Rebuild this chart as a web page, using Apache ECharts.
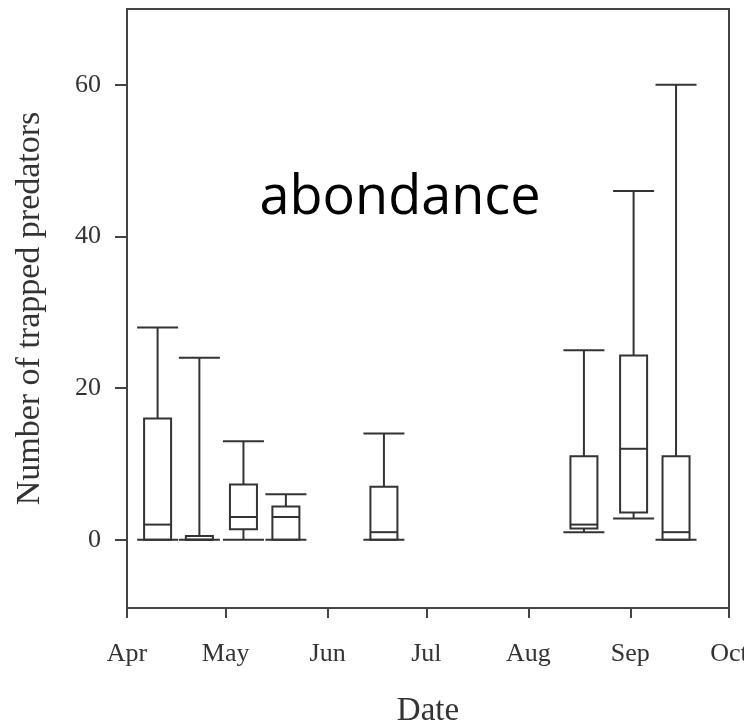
<!DOCTYPE html>
<html>
<head>
<meta charset="utf-8">
<script src="https://cdn.jsdelivr.net/npm/echarts@6/dist/echarts.min.js"></script>
<style>
html,body{margin:0;padding:0;background:#fff;}
#chart{width:744px;height:724px;}
</style>
</head>
<body>
<div id="chart"></div>
<script>
// Month labels and their offsets (days since 1 April)
const monthLabels = ['Apr', 'May', 'Jun', 'Jul', 'Aug', 'Sep', 'Oct'];
const monthStartDays = [0, 30, 61, 91, 122, 153, 183];
// Sampling dates (days since 1 April)
const sampleDays = [9.3, 22, 35.4, 48.3, 78.1, 138.9, 154, 166.9];
// Box plot statistics per sampling date
const whiskerLow = [0, 0, 0, 0, 0, 1, 2.8, 0];
const quartile1 = [0, 0, 1.4, 0, 0, 1.5, 3.6, 0];
const medians = [2, 0, 3, 3, 1, 2, 12, 1];
const quartile3 = [16, 0.5, 7.3, 4.4, 7, 11, 24.3, 11];
const whiskerHigh = [28, 24, 13, 6, 14, 25, 46, 60];
const yTicks = [0, 20, 40, 60];

const boxData = sampleDays.map((d, i) => [d, whiskerLow[i], quartile1[i], medians[i], quartile3[i], whiskerHigh[i]]);

const chart = echarts.init(document.getElementById('chart'));
const ink = '#333';
const serif = 'Liberation Serif';

function renderBox(params, api) {
  const x = api.value(0);
  const pLo = api.coord([x, api.value(1)]);
  const pQ1 = api.coord([x, api.value(2)]);
  const pMed = api.coord([x, api.value(3)]);
  const pQ3 = api.coord([x, api.value(4)]);
  const pHi = api.coord([x, api.value(5)]);
  const cx = pMed[0];
  const bh = 13.5, ch = 20.5;
  const st = { stroke: ink, lineWidth: 2, fill: null };
  return {
    type: 'group',
    children: [
      { type: 'line', shape: { x1: cx, y1: pQ3[1], x2: cx, y2: pHi[1] }, style: st },
      { type: 'line', shape: { x1: cx, y1: pLo[1], x2: cx, y2: pQ1[1] }, style: st },
      { type: 'line', shape: { x1: cx - ch, y1: pHi[1], x2: cx + ch, y2: pHi[1] }, style: st },
      { type: 'line', shape: { x1: cx - ch, y1: pLo[1], x2: cx + ch, y2: pLo[1] }, style: st },
      { type: 'rect', shape: { x: cx - bh, y: pQ3[1], width: 2 * bh, height: pQ1[1] - pQ3[1] }, style: { stroke: ink, lineWidth: 2, fill: 'rgba(0,0,0,0)' } },
      { type: 'line', shape: { x1: cx - bh, y1: pMed[1], x2: cx + bh, y2: pMed[1] }, style: st }
    ]
  };
}

chart.setOption({
  backgroundColor: '#fff',
  animation: false,
  grid: {
    left: 127, right: 15, top: 9, bottom: 116,
    outerBoundsMode: 'none',
    containLabel: false,
    show: true, borderColor: '#444', borderWidth: 2, backgroundColor: 'transparent'
  },
  xAxis: {
    type: 'value',
    min: 0, max: 183,
    name: 'Date',
    nameLocation: 'middle',
    nameGap: 87,
    nameTextStyle: { fontFamily: serif, fontSize: 33, color: ink },
    axisLine: { show: true, onZero: false, lineStyle: { color: '#444', width: 2 } },
    axisTick: { show: true, length: 10, inside: false, customValues: monthStartDays, lineStyle: { color: '#444', width: 2 } },
    axisLabel: {
      customValues: monthStartDays,
      margin: 33,
      fontFamily: serif, fontSize: 26, color: ink,
      formatter: v => monthLabels[monthStartDays.indexOf(Math.round(v))] || ''
    },
    splitLine: { show: false }
  },
  yAxis: {
    type: 'value',
    min: -9, max: 70,
    name: 'Number of trapped predators',
    nameLocation: 'middle',
    nameGap: 80,
    nameTextStyle: { fontFamily: serif, fontSize: 34, color: ink },
    axisLine: { show: true, onZero: false, lineStyle: { color: '#444', width: 2 } },
    axisTick: { show: true, length: 12, inside: false, customValues: yTicks, lineStyle: { color: '#444', width: 2 } },
    axisLabel: { customValues: yTicks, margin: 26, fontFamily: serif, fontSize: 26, color: ink },
    splitLine: { show: false }
  },
  graphic: [{
    type: 'text',
    x: 400, y: 199,
    style: { text: 'abondance', font: '54px "Open Sans"', fill: '#000', textAlign: 'center', textVerticalAlign: 'middle' },
    z: 100
  }],
  series: [{
    type: 'custom',
    renderItem: renderBox,
    data: boxData,
    encode: { x: 0, y: [1, 2, 3, 4, 5] },
    clip: false
  }]
});
</script>
</body>
</html>
